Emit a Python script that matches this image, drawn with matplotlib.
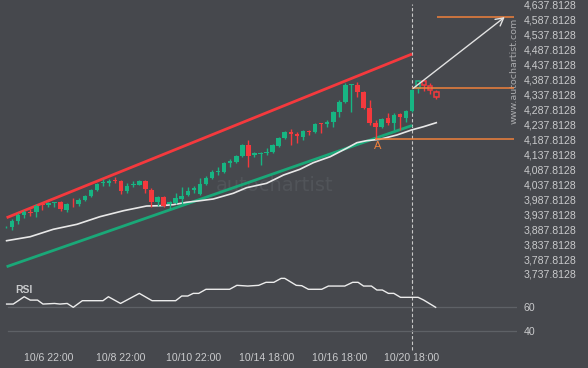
import matplotlib
matplotlib.use("Agg")
import matplotlib.pyplot as plt
import numpy as np

# ---------------- data ----------------
opens = [3893.5, 3893.8, 3914.9, 3935.0, 3944.6, 3943.3, 3970.7, 3967.4, 3975.1, 3978.4,
         3951.7, 3972.7, 3970.7, 3985.1, 3998.4, 4018.5, 4040.9, 4042.9, 4051.9, 4048.6,
         4016.1, 4036.2, 4036.2, 4048.6, 4018.5, 3979.4, 3996.1, 3971.7, 3974.1, 3987.4,
         4001.8, 4018.5, 4005.1, 4038.6, 4057.6, 4077.7, 4079.7, 4109.7, 4113.1, 4132.1,
         4168.8, 4135.5, 4138.8, 4141.1, 4146.5, 4165.5, 4193.3, 4213.3, 4204.6, 4196.6,
         4216.7, 4213.3, 4241.4, 4238.1, 4244.8, 4280.2, 4313.6, 4369.4, 4369.4, 4347.0,
         4291.6, 4243.4, 4228.1, 4258.1, 4241.4, 4271.5, 4258.1, 4282.5]
closes = [3895.0, 3915.9, 3935.0, 3946.0, 3941.3, 3965.0, 3967.4, 3976.1, 3977.4, 3954.0,
          3971.7, 3970.7, 3985.1, 3998.4, 4018.5, 4038.6, 4044.2, 4048.6, 4048.6, 4016.1,
          4031.9, 4039.6, 4048.6, 4020.8, 3978.4, 3996.1, 3965.0, 3979.4, 3991.4, 3998.4,
          4016.1, 4024.1, 4038.6, 4057.6, 4079.7, 4083.0, 4109.7, 4116.4, 4132.1, 4168.8,
          4132.1, 4141.1, 4143.2, 4146.5, 4168.8, 4193.3, 4213.3, 4204.6, 4199.0, 4215.7,
          4212.3, 4239.1, 4238.1, 4246.8, 4280.2, 4313.6, 4369.4, 4372.8, 4347.0, 4291.6,
          4241.4, 4228.1, 4254.8, 4241.4, 4269.2, 4263.5, 4282.5, 4352.7]
highs = [3897.0, 3920.6, 3940.6, 3951.7, 3954.0, 3970.7, 3976.1, 3979.4, 3979.4, 3980.7,
         3974.1, 3990.8, 3990.8, 4000.8, 4021.8, 4040.9, 4053.6, 4055.3, 4061.0, 4051.9,
         4040.9, 4048.6, 4051.9, 4051.9, 4024.1, 3998.4, 3998.4, 3982.7, 4009.5, 4027.5,
         4027.5, 4031.9, 4058.6, 4065.3, 4085.3, 4096.4, 4113.1, 4121.1, 4135.5, 4172.2,
         4185.6, 4146.5, 4146.5, 4157.9, 4172.2, 4196.6, 4216.7, 4221.4, 4213.3, 4219.0,
         4219.0, 4243.4, 4243.4, 4252.5, 4283.5, 4319.3, 4375.1, 4374.4, 4380.5, 4350.4,
         4319.3, 4252.5, 4258.1, 4276.8, 4274.9, 4276.8, 4285.9, 4355.1]
lows = [3891.0, 3884.8, 3903.9, 3923.9, 3931.6, 3929.3, 3951.7, 3960.7, 3960.7, 3948.3,
        3943.3, 3962.7, 3966.0, 3982.7, 3994.1, 4016.1, 4032.6, 4031.9, 4040.9, 4004.1,
        4007.5, 4029.6, 4035.3, 4007.5, 3962.7, 3965.0, 3962.7, 3954.0, 3971.7, 3970.7,
        3998.4, 4007.5, 4001.8, 4035.3, 4054.3, 4068.6, 4076.3, 4096.4, 4109.7, 4129.8,
        4096.4, 4129.8, 4102.0, 4135.5, 4141.1, 4161.2, 4188.0, 4168.8, 4176.6, 4185.6,
        4202.3, 4208.0, 4208.0, 4230.1, 4230.1, 4263.5, 4310.3, 4280.2, 4330.3, 4288.2,
        4235.7, 4188.0, 4224.7, 4235.7, 4219.0, 4219.0, 4246.8, 4280.2]

# projected (hollow) candles after the signal
proj_open = [4358.4, 4382.8, 4366.1, 4347.0]
proj_close = [4382.8, 4369.4, 4352.7, 4328.3]
proj_high = [4386.1, 4386.1, 4375.1, 4352.7]
proj_low = [4343.7, 4350.4, 4339.3, 4322.6]

# moving average (read vertices)
ma_idx = [0.1, 4.0, 7.8, 11.7, 15.5, 19.4, 23.2, 25.4, 27.6, 29.8, 32.0, 34.2, 37.5, 39.7,
          43.0, 45.8, 48.5, 50.7, 53.5, 56.2, 57.9, 59.5, 61.7, 64.5, 66.9, 68.9, 71.0]
ma_val = [3849.0, 3862.4, 3887.1, 3903.8, 3929.3, 3949.3, 3965.0, 3966.0, 3969.4, 3977.4,
          3982.7, 3988.4, 4007.5, 4026.2, 4040.9, 4068.6, 4087.7, 4109.7, 4129.8, 4157.9,
          4176.6, 4183.3, 4188.0, 4202.3, 4219.0, 4230.1, 4243.4]

# channel lines ((start idx, end idx), (start price, end price))
resist_line = [(0.1, 67.0), (3925.9, 4473.0)]
support_line = [(0.1, 67.0), (3762.1, 4234.1)]

# levels
target_level = 4596.5
entry_level = 4358.4
point_a_level = 4187.9
point_a_idx = 61

# RSI vertices
rsi_idx = [0.1, 1.2, 3.0, 4.0, 5.2, 6.1, 8.0, 8.9, 10.1, 11.1, 12.6, 16.0, 16.9, 18.9, 22.0,
           24.1, 28.0, 29.0, 30.0, 30.9, 31.8, 33.0, 36.9, 38.1, 39.9, 41.7, 42.9, 44.2, 45.4,
           46.0, 47.9, 48.8, 49.9, 52.1, 53.2, 55.9, 57.2, 58.1, 59.0, 60.3, 61.2, 62.1, 63.1,
           64.0, 65.1, 68.0, 68.9, 70.9]
rsi_val = [62.2, 62.2, 68.3, 65.5, 65.5, 62.2, 62.7, 62.2, 62.7, 59.5, 65.0, 65.0, 68.3, 62.7,
           71.1, 65.0, 65.0, 68.9, 68.9, 71.1, 71.1, 74.5, 74.5, 77.8, 77.2, 77.8, 80.3, 80.3,
           83.6, 83.6, 77.8, 77.5, 74.5, 74.5, 77.2, 77.2, 80.3, 80.3, 77.2, 77.2, 73.9, 73.9,
           71.1, 71.1, 67.8, 67.8, 65.6, 59.5]

price_ticks = [3737.8128 + 50 * k for k in range(19)]
time_tick_idx = [7, 19, 31, 43, 55, 67]
time_tick_labels = ['10/6 22:00', '10/8 22:00', '10/10 22:00', '10/14 18:00',
                    '10/16 18:00', '10/20 18:00']
rsi_ticks = [40, 60]

# ---------------- style ----------------
BG = '#46484d'
GREEN = '#17b583'
RED = '#f5393d'
ORANGE = '#f0813c'
TXT = '#c9cacc'
plt.rcParams['font.family'] = ['Liberation Sans', 'DejaVu Sans']

W, H = 588, 368
fig = plt.figure(figsize=(W / 100, H / 100), dpi=100, facecolor=BG)

def box(top, bottom, left=0, right=517):
    return [left / W, (H - bottom) / H, (right - left) / W, (bottom - top) / H]

sp = 6.06
x0 = 6.0
xlim = (-x0 / sp, (517 - x0) / sp)

ax = fig.add_axes(box(0, 283))
ax.set_facecolor('none')
ax.set_xlim(*xlim)
ax.set_ylim(3707.67, 4653.52)

rax = fig.add_axes(box(275, 345))
rax.set_facecolor('none')
rax.set_xlim(*xlim)
rax.set_ylim(28.1, 86.4)

for a in (ax, rax):
    for s in a.spines.values():
        s.set_visible(False)

# watermark
ax.text(34.65, 4035, 'autochartist', color='#515459', fontsize=14, family='DejaVu Sans',
        ha='left', va='center', zorder=0)

n = len(opens)
idx = np.arange(n)
bw = 0.75
colors = [GREEN if c >= o else RED for o, c in zip(opens, closes)]
ax.vlines(idx, lows, highs, colors=colors, lw=1.0, zorder=3)
bottoms = [min(o, c) for o, c in zip(opens, closes)]
heights = [max(abs(c - o), 2.5) for o, c in zip(opens, closes)]
ax.bar(idx, heights, bottom=bottoms, width=bw, color=colors, lw=0, zorder=4)

pidx = np.arange(n, n + len(proj_open))
pcolors = [GREEN if c >= o else RED for o, c in zip(proj_open, proj_close)]
ax.vlines(pidx, proj_low, proj_high, colors=pcolors, lw=1.0, zorder=3)
pb = [min(o, c) for o, c in zip(proj_open, proj_close)]
ph = [abs(c - o) for o, c in zip(proj_open, proj_close)]
ax.bar(pidx, ph, bottom=pb, width=bw, facecolor=BG, edgecolor=pcolors, lw=1.1, zorder=4)

# channel + MA
ax.plot(resist_line[0], resist_line[1], color=RED, lw=2.0, zorder=2, solid_capstyle='butt')
ax.plot(support_line[0], support_line[1], color='#1aa878', lw=2.0, zorder=2, solid_capstyle='butt')
ax.plot(ma_idx, ma_val, color='#e8e8e8', lw=1.2, zorder=2)

# levels
right_i = (514 - x0) / sp
ax.hlines(target_level, (437 - x0) / sp, right_i, color=ORANGE, lw=1.1, zorder=5)
ax.hlines(entry_level, 67, right_i, color=ORANGE, lw=1.1, zorder=5)
ax.hlines(point_a_level, point_a_idx - 0.1, right_i, color=ORANGE, lw=1.1, zorder=5)
ax.text(point_a_idx + 0.4, 4166, 'A', color=ORANGE, fontsize=8, ha='center', va='center')

ax.annotate('', xy=(82.3, target_level), xytext=(67.2, entry_level),
            arrowprops=dict(arrowstyle='->,head_length=0.55,head_width=0.3',
                            color='#e2e2e2', lw=1.0, shrinkA=0, shrinkB=0), zorder=6)

# dashed signal line
ax.axvline(67, ymin=0, ymax=1 - 4 / 283, color='#c8c8c8', lw=0.8, ls=(0, (3, 2)), zorder=1)
rax.axvline(67, ymin=-5 / 70, ymax=1, color='#c8c8c8', lw=0.8, ls=(0, (3, 2)),
            zorder=1, clip_on=False)

# ticks main
ax.yaxis.tick_right()
ax.set_yticks(price_ticks)
ax.set_yticklabels([f'{v:,.4f}' for v in price_ticks])
ax.tick_params(axis='y', length=0, pad=5, labelsize=7.6, labelcolor=TXT)
ax.set_xticks([])

ax.text(1.0 - 3 / 517, 4595, 'www.autochartist.com', transform=ax.get_yaxis_transform(),
        rotation=90, fontsize=6.8, color='#a9aaad', ha='center', va='top',
        family='DejaVu Sans')

# RSI
for lv in rsi_ticks:
    rax.axhline(lv, xmin=7.5 / 517, xmax=1, color='#5e6166', lw=0.9, zorder=1)
rax.plot(rsi_idx, rsi_val, color='#ececec', lw=1.0, zorder=3)
rax.yaxis.tick_right()
rax.set_yticks(rsi_ticks)
rax.set_yticklabels([str(v) for v in rsi_ticks])
rax.tick_params(axis='y', length=0, pad=5, labelsize=7.6, labelcolor=TXT)
rax.set_xticks(time_tick_idx)
rax.set_xticklabels(time_tick_labels)
rax.tick_params(axis='x', length=0, pad=6, labelsize=7.6, labelcolor=TXT)
rax.text(1.5, 74.0, 'RSI', color=TXT, fontsize=7.5, fontweight='bold', ha='left', va='center')

fig.savefig('out.png', dpi=100, facecolor=BG)
